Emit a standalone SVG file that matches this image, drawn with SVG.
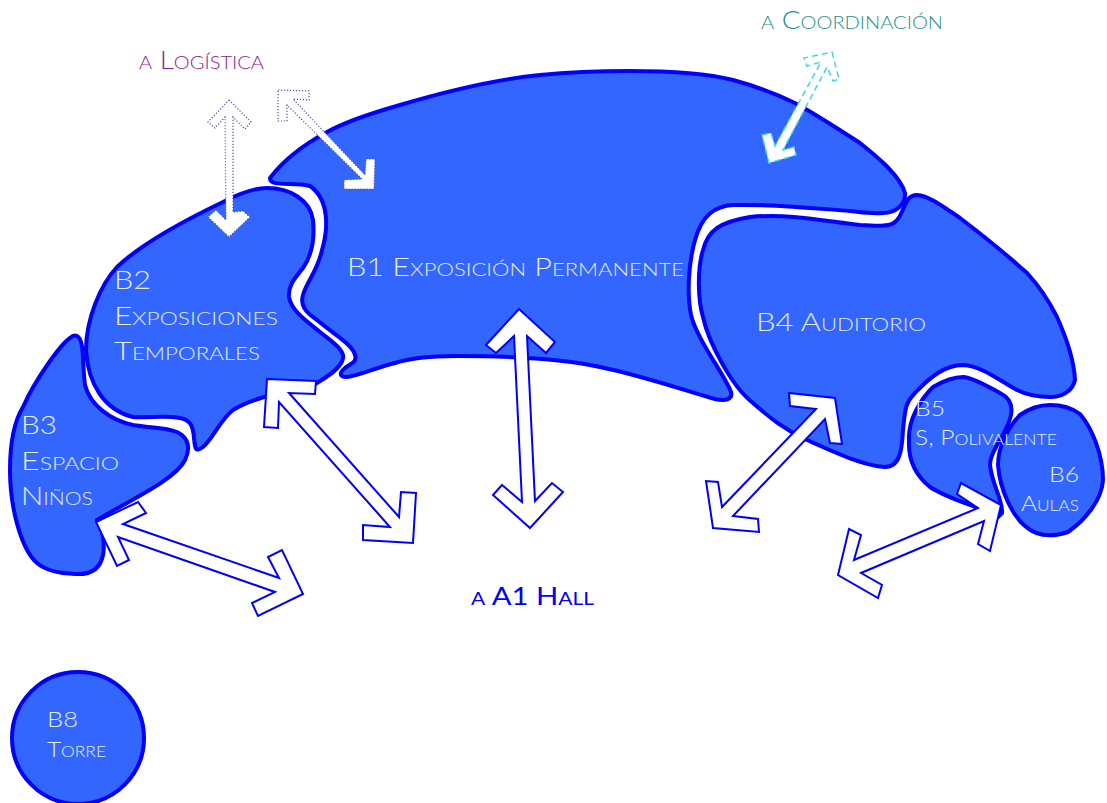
<svg xmlns="http://www.w3.org/2000/svg" width="1107" height="803" viewBox="0 0 1107 803">
<style>
.n{fill:#3366ff;stroke:#0000ff;stroke-width:4;stroke-linejoin:round}
text{font-family:"Lato","Open Sans","Liberation Sans",sans-serif;font-weight:300;font-variant:small-caps;fill:#e4ecff;font-size:25px}
.s{font-size:21px}
.a{fill:#fff;stroke:#0000ff;stroke-width:2;stroke-linejoin:miter}
.d{fill:#fff;stroke:#5050b0;stroke-width:1.2;stroke-dasharray:1.2 1.8}
.c{fill:#fff;stroke:#40dcdc;stroke-width:1.5;stroke-dasharray:6 4}
</style>
<rect width="1107" height="803" fill="#fff"/>
<g id="node-b1">
<path class="n" d="M270 178C285 158 305 144 327 132C345 122 372 113 400 105C440 93 490 80 540 75C570 72 600 71 630 71C670 71 705 73 733 80C755 86 775 93 797 104C820 117 840 130 860 143C875 155 900 175 905 193C906 205 895 213 883 213C870 214 860 212 850 211C810 208 770 204 733 205C715 206 702 215 695 240C688 265 687 295 691 315C697 340 725 375 731 392C733 400 725 401 715 399C690 392 640 375 600 367C570 360 520 356 457 356C430 356 410 358 395 363C375 368 355 377 347 377C338 377 340 372 345 368C352 363 357 362 355 355C353 345 335 335 317 320C305 312 300 305 303 295C306 283 318 270 322 250C328 230 330 200 310 186C295 181 270 188 270 178Z"/>
<text x="347" y="276" textLength="337" lengthAdjust="spacingAndGlyphs">B1 Exposición Permanente</text>
</g>
<g id="node-b2">
<path class="n" d="M267 188C290 188 310 200 313 220C315 240 312 255 303 268C295 278 288 285 289 297C291 310 305 320 320 332C330 340 345 350 343 358C342 368 325 378 317 383C300 392 260 393 233 410C220 420 212 440 203 447C195 453 195 448 194 438C193 425 190 420 180 418C165 415 150 418 133 417C105 410 88 385 86 350C86 320 100 285 117 267C140 245 175 225 223 202C240 193 255 188 267 188Z"/>
<text x="114" y="289" textLength="37" lengthAdjust="spacingAndGlyphs">B2</text>
<text x="114" y="325" textLength="164" lengthAdjust="spacingAndGlyphs">Exposiciones</text>
<text x="114" y="360" textLength="146" lengthAdjust="spacingAndGlyphs">Temporales</text>
</g>
<g id="node-b3">
<path class="n" d="M77 336C85 340 82 365 85 385C90 405 110 420 133 425C150 428 165 427 177 432C190 438 190 450 185 460C175 480 130 500 97 520C103 530 105 545 103 555C100 570 90 575 75 574C60 574 45 570 37 563C22 550 10 510 10 470C10 440 15 420 23 407C35 380 60 345 70 338C73 335 75 335 77 336Z"/>
<text x="21" y="434" textLength="36" lengthAdjust="spacingAndGlyphs">B3</text>
<text x="21" y="470" textLength="98" lengthAdjust="spacingAndGlyphs">Espacio</text>
<text x="21" y="505" textLength="72" lengthAdjust="spacingAndGlyphs">Niños</text>
</g>
<g id="node-b4">
<path class="n" d="M917 195C930 196 945 208 960 218C985 237 1007 255 1027 273C1040 287 1050 303 1057 317C1066 337 1074 360 1075 380C1072 393 1060 397 1050 397C1035 397 1025 394 1017 390C1000 381 982 366 963 365C945 365 930 377 915 393C905 403 905 410 903 430C902 450 900 467 885 467C860 465 830 450 807 440C785 430 770 418 753 403C730 385 708 340 703 317C698 300 697 270 703 250C708 230 720 222 750 217C790 213 830 222 860 225C875 226 890 227 895 222C905 215 903 195 917 195Z"/>
<text x="756" y="331" textLength="170" lengthAdjust="spacingAndGlyphs">B4 Auditorio</text>
</g>
<g id="node-b6">
<path class="n" d="M1050 405C1060 405 1072 408 1080 414C1092 428 1103 455 1103 480C1102 500 1085 520 1068 532C1050 538 1035 535 1025 526C1012 515 1000 490 998 465C998 445 1010 425 1020 415C1030 408 1040 405 1050 405Z"/>
</g>
<g id="node-b5">
<path class="n" d="M963 377C975 378 990 388 1000 393C1010 398 1013 405 1011 415C1007 435 990 450 990 465C992 485 1003 500 1002 513L998 517C975 505 950 500 930 487C915 475 908 460 909 440C908 420 920 400 933 387C945 380 955 377 963 377Z"/>
<text class="s" x="915" y="416" textLength="30" lengthAdjust="spacingAndGlyphs">B5</text>
<text class="s" x="915" y="445" textLength="142" lengthAdjust="spacingAndGlyphs">S, Polivalente</text>
</g>
<g id="node-b6-labels">
<text class="s" x="1049" y="482" textLength="30" lengthAdjust="spacingAndGlyphs">B6</text>
<text class="s" x="1021" y="511" textLength="58" lengthAdjust="spacingAndGlyphs">Aulas</text>
</g>
<g id="node-b8">
<circle class="n" cx="78" cy="738" r="66"/>
<text class="s" x="47" y="727" textLength="31" lengthAdjust="spacingAndGlyphs">B8</text>
<text class="s" x="47" y="757" textLength="59" lengthAdjust="spacingAndGlyphs">Torre</text>
</g>
<g id="connectors">
<polygon class="a" points="96,522 138,502 146,513 123,524 279,578 268,557 282,550 303,594 258,616 252,603 275,592 118,537 129,560 117,566"/>
<polygon class="a" points="267,379 316,381 315,394 289,393 399,517 401,492 416,493 413,543 363,540 363,525 390,527 279,402 278,428 264,427"/>
<polygon class="a" points="519,309 555,342 546,353 527,336 535,501 552,483 563,492 530,528 493,495 502,485 522,502 514,336 496,353 486,345"/>
<polygon class="a" points="789,393 835,398 842,444 830,443 825,419 733,516 758,519 759,532 713,528 706,481 718,482 722,507 816,409 790,406"/>
<polygon class="a" points="1001,505 990,551 978,544 984,521 861,573 882,585 878,598 838,575 849,529 861,535 854,560 978,508 957,494 961,483"/>
<polygon class="d" points="229,100 251,122 245,129 233,117 233,212 243,211 250,217 229,237 208,217 216,210 226,220 225,117 215,128 208,122"/>
<polygon class="d" points="278,90 309,91 309,100 293,99 365,175 366,159 375,159 374,189 344,189 344,180 362,179 287,105 287,121 278,121"/>
<polygon class="c" points="832,52 839,79 833,81 827,67 783,150 794,147 796,155 769,163 762,135 771,133 775,146 821,62 807,66 804,58"/>
</g>
<g id="labels">
<text x="139" y="69" textLength="125" lengthAdjust="spacingAndGlyphs" style="fill:#96208f">a Logística</text>
<text x="761" y="29" textLength="182" lengthAdjust="spacingAndGlyphs" style="fill:#1f8f8f">a Coordinación</text>
<text x="471" y="605" textLength="123" lengthAdjust="spacingAndGlyphs" style="fill:#0000ff;font-weight:400">a A1 Hall</text>
</g>
</svg>
